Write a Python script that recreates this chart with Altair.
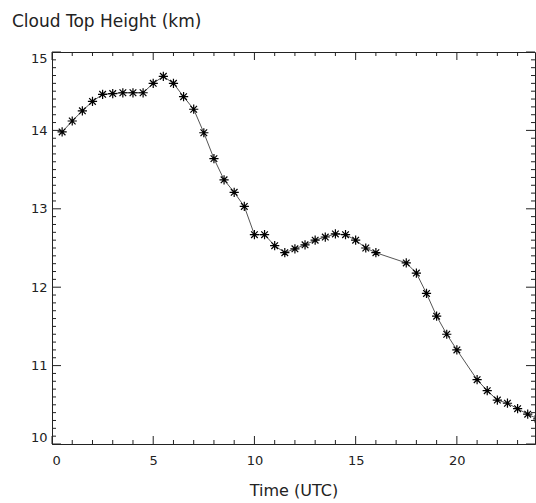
import altair as alt
import pandas as pd

# Data
time_utc = [0.5, 1.0, 1.5, 2.0, 2.5, 3.0, 3.5, 4.0, 4.5, 5.0, 5.5, 6.0, 6.5, 7.0,
            7.5, 8.0, 8.5, 9.0, 9.5, 10.0, 10.5, 11.0, 11.5, 12.0, 12.5, 13.0,
            13.5, 14.0, 14.5, 15.0, 15.5, 16.0, 17.5, 18.0, 18.5, 19.0, 19.5,
            20.0, 21.0, 21.5, 22.0, 22.5, 23.0, 23.5, 24.0]
height_km = [13.98, 14.12, 14.25, 14.37, 14.46, 14.47, 14.48, 14.48, 14.48, 14.60,
             14.69, 14.60, 14.43, 14.27, 13.97, 13.64, 13.37, 13.21, 13.03, 12.67,
             12.67, 12.53, 12.44, 12.49, 12.54, 12.60, 12.64, 12.68, 12.67, 12.60,
             12.50, 12.44, 12.31, 12.18, 11.92, 11.63, 11.40, 11.20, 10.82, 10.68,
             10.56, 10.52, 10.45, 10.38, 10.32]

x_major = [0, 5, 10, 15, 20]
x_minor = [1, 2, 3, 4, 6, 7, 8, 9, 11, 12, 13, 14, 16, 17, 18, 19, 21, 22, 23]
y_major = [10, 11, 12, 13, 14, 15]
y_minor = [round(10 + i / 10, 1) for i in range(1, 50) if i % 10 != 0]

X_DOMAIN = [0, 23.86]
Y_DOMAIN = [10, 15]
W, H = 483, 392
FONT = "DejaVu Sans"
INK = "#222222"

df = pd.DataFrame({"t": time_utc, "h": height_km})
xs = alt.Scale(domain=X_DOMAIN, nice=False, zero=False)
ys = alt.Scale(domain=Y_DOMAIN, nice=False, zero=False)
AX = dict(ticks=False, grid=False, domainColor=INK, domainWidth=1,
          labelFont=FONT, labelFontSize=13, labelColor=INK,
          titleFont=FONT, titleFontSize=16, titleFontWeight="normal", titleColor=INK)
x_axis = alt.Axis(values=x_major, labelPadding=10, title="Time (UTC)",
                  titlePadding=15, **AX)
y_axis = alt.Axis(values=y_major, labelFlush=True, labelPadding=5, title=None, **AX)

base = alt.Chart(df)
line = base.mark_line(color="#555555", strokeWidth=1, clip=True).encode(
    x=alt.X("t:Q", scale=xs, axis=x_axis),
    y=alt.Y("h:Q", scale=ys, axis=y_axis),
)
ast = "M-1,0L1,0M0,-1L0,1M-0.72,-0.72L0.72,0.72M-0.72,0.72L0.72,-0.72"
pts = base.mark_point(shape=ast, filled=False, stroke="black", strokeWidth=1.2,
                      size=85, opacity=1, clip=True).encode(
    x=alt.X("t:Q", scale=xs, axis=x_axis), y=alt.Y("h:Q", scale=ys, axis=y_axis))


def xticks(vals, length):
    d = alt.Chart(pd.DataFrame({"t": vals}))
    bot = d.mark_rule(color=INK, strokeWidth=1).encode(
        x=alt.X("t:Q", scale=xs, axis=x_axis), y=alt.value(H), y2=alt.value(H - length))
    top = d.mark_rule(color=INK, strokeWidth=1).encode(
        x=alt.X("t:Q", scale=xs, axis=x_axis), y=alt.value(0), y2=alt.value(length))
    return [bot, top]


def yticks(vals, length):
    d = alt.Chart(pd.DataFrame({"h": vals}))
    left = d.mark_rule(color=INK, strokeWidth=1).encode(
        y=alt.Y("h:Q", scale=ys, axis=y_axis), x=alt.value(0), x2=alt.value(length))
    right = d.mark_rule(color=INK, strokeWidth=1).encode(
        y=alt.Y("h:Q", scale=ys, axis=y_axis), x=alt.value(W), x2=alt.value(W - length))
    return [left, right]


layers = [line] + xticks(x_major, 8) + xticks(x_minor, 4) + yticks(y_major, 9) + \
    yticks(y_minor, 4) + [pts]

chart = alt.layer(*layers).properties(
    width=W, height=H,
    title=alt.TitleParams("Cloud Top Height (km)", anchor="start", frame="group",
                          dx=-40, offset=21, font=FONT, fontSize=17,
                          fontWeight="normal", color=INK),
    autosize=alt.AutoSizeParams(type="none"),
    padding={"left": 52, "top": 52, "right": 1, "bottom": 59},
    background="white",
).configure_view(stroke=INK, strokeWidth=1)

chart.save("out.html", embed_options={"renderer": "svg", "actions": False})
